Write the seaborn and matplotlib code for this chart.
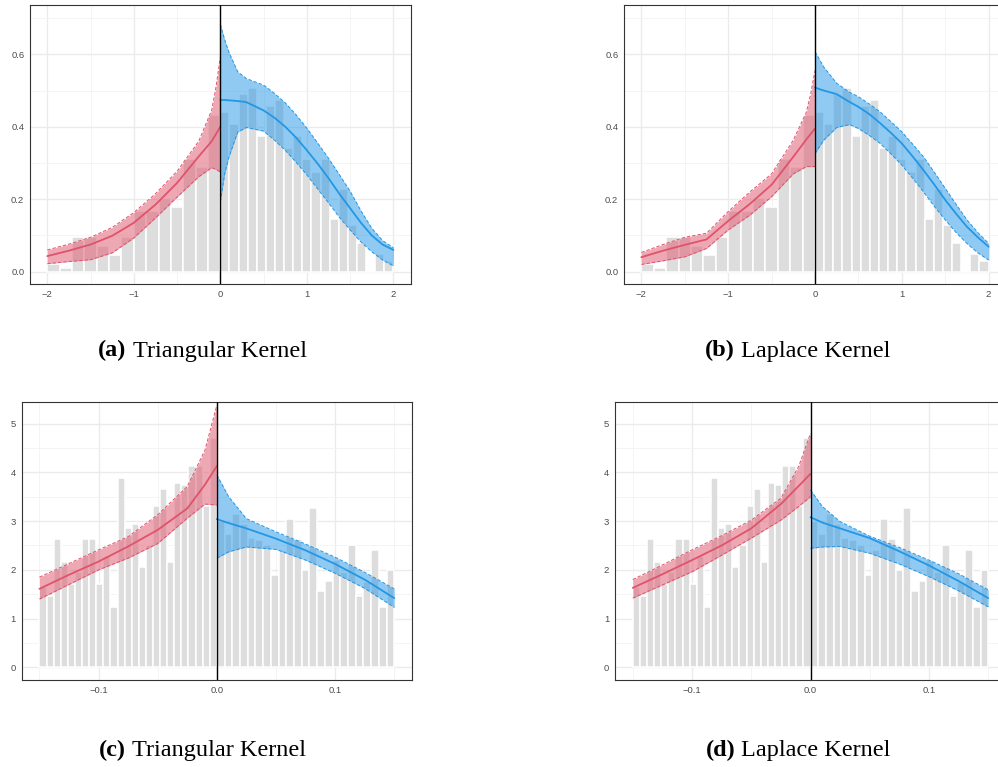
import numpy as np
import pandas as pd
import matplotlib
matplotlib.use("Agg")
import matplotlib.pyplot as plt
import seaborn as sns

# ---------------- data ----------------
# histogram bins (top panels): left 14 bins on [-2,0], right 19 bins on [0,2]
top_left_range = (-2.0, 0.0)
top_right_range = (0.0, 2.0)
top_left_heights = [0.021, 0.010, 0.095, 0.095, 0.071, 0.046, 0.097, 0.168, 0.168,
                    0.202, 0.179, 0.311, 0.289, 0.432]
top_right_heights = [0.440, 0.407, 0.490, 0.507, 0.375, 0.457, 0.474, 0.342, 0.375,
                     0.310, 0.276, 0.310, 0.146, 0.228, 0.130, 0.079, 0.0, 0.048, 0.030]

# histogram bins (bottom panels): left 25 bins on [-0.15,0], right 23 bins on [0,0.15]
bot_left_range = (-0.15, 0.0)
bot_right_range = (0.0, 0.15)
bot_left_heights = [1.65, 1.47, 2.63, 2.16, 1.71, 1.95, 2.63, 2.63, 1.71, 2.28, 1.24,
                    3.89, 2.85, 2.95, 2.05, 2.51, 3.31, 3.66, 2.16, 3.78, 3.75, 4.13,
                    4.13, 3.31, 4.70]
bot_right_heights = [3.00, 2.74, 3.15, 2.94, 2.65, 2.61, 2.50, 1.89, 2.40, 3.04, 2.63,
                     2.00, 3.26, 1.57, 1.78, 2.20, 1.95, 2.52, 1.47, 1.75, 2.41, 1.24, 2.00]

# (a) Triangular kernel fits
a_left_x = [-2.0, -1.75, -1.5, -1.25, -1.0, -0.75, -0.5, -0.25, -0.1, -0.05, 0.0]
a_left_fit = [0.043, 0.058, 0.075, 0.099, 0.135, 0.185, 0.245, 0.318, 0.360, 0.380, 0.400]
a_left_hi = [0.060, 0.076, 0.095, 0.122, 0.163, 0.215, 0.277, 0.360, 0.446, 0.510, 0.593]
a_left_lo = [0.022, 0.028, 0.033, 0.052, 0.093, 0.148, 0.206, 0.262, 0.287, 0.282, 0.275]
a_right_x = [0.0, 0.05, 0.1, 0.2, 0.3, 0.5, 0.625, 0.75, 0.875, 1.0, 1.125, 1.25,
             1.375, 1.5, 1.625, 1.75, 1.875, 2.0]
a_right_fit = [0.474, 0.474, 0.473, 0.471, 0.468, 0.445, 0.425, 0.400, 0.370, 0.335,
               0.298, 0.258, 0.215, 0.175, 0.135, 0.100, 0.075, 0.060]
a_right_hi = [0.683, 0.640, 0.605, 0.552, 0.533, 0.515, 0.492, 0.466, 0.433, 0.396,
              0.355, 0.313, 0.268, 0.222, 0.168, 0.120, 0.086, 0.066]
a_right_lo = [0.193, 0.270, 0.317, 0.385, 0.398, 0.388, 0.363, 0.335, 0.302, 0.267,
              0.228, 0.190, 0.150, 0.115, 0.082, 0.055, 0.032, 0.016]

# (b) Laplace kernel fits
b_left_x = [-2.0, -1.75, -1.5, -1.25, -1.0, -0.75, -0.5, -0.25, -0.1, -0.05, 0.0]
b_left_fit = [0.040, 0.058, 0.074, 0.089, 0.140, 0.187, 0.240, 0.317, 0.365, 0.380, 0.395]
b_left_hi = [0.053, 0.075, 0.095, 0.106, 0.166, 0.220, 0.270, 0.363, 0.440, 0.490, 0.555]
b_left_lo = [0.020, 0.030, 0.041, 0.064, 0.115, 0.156, 0.207, 0.270, 0.290, 0.290, 0.290]
b_right_x = [0.0, 0.1, 0.25, 0.4, 0.5, 0.625, 0.75, 0.875, 1.0, 1.125, 1.25, 1.375,
             1.5, 1.625, 1.75, 1.875, 2.0]
b_right_fit = [0.508, 0.500, 0.490, 0.468, 0.455, 0.435, 0.410, 0.383, 0.354, 0.318,
               0.280, 0.240, 0.198, 0.160, 0.124, 0.095, 0.069]
b_right_hi = [0.607, 0.565, 0.520, 0.495, 0.483, 0.463, 0.441, 0.414, 0.386, 0.352,
              0.317, 0.274, 0.230, 0.186, 0.143, 0.108, 0.078]
b_right_lo = [0.326, 0.363, 0.398, 0.406, 0.395, 0.376, 0.354, 0.325, 0.294, 0.258,
              0.220, 0.180, 0.143, 0.108, 0.078, 0.052, 0.032]

# (c) Triangular kernel fits (zoomed)
c_left_x = [-0.15, -0.125, -0.1, -0.075, -0.05, -0.025, -0.01, 0.0]
c_left_fit = [1.61, 1.90, 2.17, 2.48, 2.82, 3.26, 3.75, 4.13]
c_left_hi = [1.85, 2.13, 2.41, 2.68, 3.13, 3.71, 4.46, 5.38]
c_left_lo = [1.40, 1.70, 2.00, 2.24, 2.54, 3.06, 3.35, 3.33]
c_right_x = [0.0, 0.01, 0.025, 0.05, 0.075, 0.1, 0.125, 0.15]
c_right_fit = [3.04, 2.96, 2.85, 2.64, 2.40, 2.12, 1.80, 1.42]
c_right_hi = [3.95, 3.50, 3.05, 2.78, 2.53, 2.26, 1.95, 1.61]
c_right_lo = [2.24, 2.37, 2.47, 2.42, 2.20, 1.93, 1.62, 1.23]

# (d) Laplace kernel fits (zoomed)
d_left_x = [-0.15, -0.125, -0.1, -0.075, -0.05, -0.025, -0.01, 0.0]
d_left_fit = [1.63, 1.91, 2.20, 2.50, 2.85, 3.35, 3.72, 3.97]
d_left_hi = [1.80, 2.10, 2.41, 2.70, 3.02, 3.47, 4.12, 4.80]
d_left_lo = [1.42, 1.69, 1.96, 2.30, 2.65, 3.02, 3.30, 3.50]
d_right_x = [0.0, 0.01, 0.025, 0.05, 0.075, 0.1, 0.125, 0.15]
d_right_fit = [3.08, 2.97, 2.85, 2.65, 2.38, 2.09, 1.77, 1.42]
d_right_hi = [3.64, 3.30, 2.99, 2.69, 2.46, 2.20, 1.92, 1.59]
d_right_lo = [2.44, 2.47, 2.48, 2.34, 2.12, 1.86, 1.57, 1.24]

top_xticks = [-2, -1, 0, 1, 2]
top_xlabels = ["\u22122", "\u22121", "0", "1", "2"]
top_yticks = [0.0, 0.2, 0.4, 0.6]
top_ylabels = ["0.0", "0.2", "0.4", "0.6"]
bot_xticks = [-0.1, 0.0, 0.1]
bot_xlabels = ["\u22120.1", "0.0", "0.1"]
bot_yticks = [0, 1, 2, 3, 4, 5]
bot_ylabels = ["0", "1", "2", "3", "4", "5"]

captions = [("(a)", "Triangular Kernel"), ("(b)", "Laplace Kernel"),
            ("(c)", "Triangular Kernel"), ("(d)", "Laplace Kernel")]

RED = "#DF536B"
BLUE = "#2297E6"
BAR = "#DDDDDD"

# ---------------- style ----------------
sns.set_style("white")
plt.rcParams["font.family"] = ["Liberation Sans", "DejaVu Sans"]

W, H = 998, 767
fig = plt.figure(figsize=(W / 100, H / 100), dpi=100)


def px_axes(left, top, right, bottom):
    return fig.add_axes([left / W, 1 - bottom / H, (right - left) / W, (bottom - top) / H])


def draw_bars(ax, rng, heights):
    n = len(heights)
    edges = np.linspace(rng[0], rng[1], n + 1)
    ax.bar(edges[:-1], heights, width=np.diff(edges), align="edge", color=BAR,
           edgecolor="white", linewidth=1.1, zorder=1)


def draw_fit(ax, x, fit, lo, hi, color):
    ax.fill_between(x, lo, hi, color=color, alpha=0.5, linewidth=0, zorder=2)
    df = pd.DataFrame({"x": x, "fit": fit, "lo": lo, "hi": hi})
    sns.lineplot(data=df, x="x", y="lo", ax=ax, color=color, linewidth=0.7,
                 linestyle=(0, (3.5, 2.0)), zorder=3)
    sns.lineplot(data=df, x="x", y="hi", ax=ax, color=color, linewidth=0.7,
                 linestyle=(0, (3.5, 2.0)), zorder=3)
    sns.lineplot(data=df, x="x", y="fit", ax=ax, color=color, linewidth=1.3, zorder=4)


def style_axes(ax, xlim, ylim, xt, xl, yt, yl, xminor, yminor):
    ax.set_xlim(*xlim)
    ax.set_ylim(*ylim)
    ax.set_xticks(xt)
    ax.set_xticklabels(xl)
    ax.set_yticks(yt)
    ax.set_yticklabels(yl)
    ax.set_xticks(xminor, minor=True)
    ax.set_yticks(yminor, minor=True)
    ax.set_axisbelow(True)
    ax.grid(which="major", color="#EBEBEB", linewidth=1.0)
    ax.grid(which="minor", color="#F3F3F3", linewidth=0.6)
    ax.tick_params(which="minor", length=0)
    ax.tick_params(which="major", length=2.8, width=0.7, color="#333333",
                   labelsize=6.8, labelcolor="#4D4D4D", pad=1.3)
    for s in ax.spines.values():
        s.set_color("#333333")
        s.set_linewidth(0.8)
    ax.set_xlabel("")
    ax.set_ylabel("")
    ax.axvline(0, color="black", linewidth=1.0, zorder=5)


top_ylim = (-0.034, 0.736)
bot_ylim = (-0.26, 5.45)
top_xlim = (-2.2, 2.2)
bot_xlim = (-0.165, 0.165)
top_xminor = [-1.5, -0.5, 0.5, 1.5]
top_yminor = [0.1, 0.3, 0.5, 0.7]
bot_xminor = [-0.15, -0.05, 0.05, 0.15]
bot_yminor = [0.5, 1.5, 2.5, 3.5, 4.5]

ax_a = px_axes(30, 5, 410.7, 284)
ax_b = px_axes(624, 5, 1006, 284)
ax_c = px_axes(21.7, 401.7, 412, 680)
ax_d = px_axes(615, 401.7, 1006, 680)

for ax in (ax_a, ax_b):
    draw_bars(ax, top_left_range, top_left_heights)
    draw_bars(ax, top_right_range, top_right_heights)
for ax in (ax_c, ax_d):
    draw_bars(ax, bot_left_range, bot_left_heights)
    draw_bars(ax, bot_right_range, bot_right_heights)

draw_fit(ax_a, a_left_x, a_left_fit, a_left_lo, a_left_hi, RED)
draw_fit(ax_a, a_right_x, a_right_fit, a_right_lo, a_right_hi, BLUE)
draw_fit(ax_b, b_left_x, b_left_fit, b_left_lo, b_left_hi, RED)
draw_fit(ax_b, b_right_x, b_right_fit, b_right_lo, b_right_hi, BLUE)
draw_fit(ax_c, c_left_x, c_left_fit, c_left_lo, c_left_hi, RED)
draw_fit(ax_c, c_right_x, c_right_fit, c_right_lo, c_right_hi, BLUE)
draw_fit(ax_d, d_left_x, d_left_fit, d_left_lo, d_left_hi, RED)
draw_fit(ax_d, d_right_x, d_right_fit, d_right_lo, d_right_hi, BLUE)

for ax in (ax_a, ax_b):
    style_axes(ax, top_xlim, top_ylim, top_xticks, top_xlabels, top_yticks, top_ylabels,
               top_xminor, top_yminor)
for ax in (ax_c, ax_d):
    style_axes(ax, bot_xlim, bot_ylim, bot_xticks, bot_xlabels, bot_yticks, bot_ylabels,
               bot_xminor, bot_yminor)

# ---------------- captions ----------------
cap_pos = [(202.5, 356.5), (798, 356.5), (202.5, 756), (798, 756)]
cap_font = ["Liberation Serif", "DejaVu Serif"]
texts = []
for (tag, label), (xc, yb) in zip(captions, cap_pos):
    t1 = fig.text(0, 1 - yb / H, tag, fontsize=17.5, fontweight="bold", family=cap_font,
                  ha="left", va="baseline", color="black")
    t2 = fig.text(0, 1 - yb / H, label, fontsize=17.5, family=cap_font,
                  ha="left", va="baseline", color="black")
    texts.append((t1, t2, xc))

fig.canvas.draw()
r = fig.canvas.get_renderer()
gap = 6.0
for t1, t2, xc in texts:
    w1 = t1.get_window_extent(r).width
    w2 = t2.get_window_extent(r).width
    start = xc - (w1 + gap + w2) / 2
    t1.set_x(start / W)
    t2.set_x((start + w1 + gap) / W)

fig.savefig("out.png", dpi=100)
